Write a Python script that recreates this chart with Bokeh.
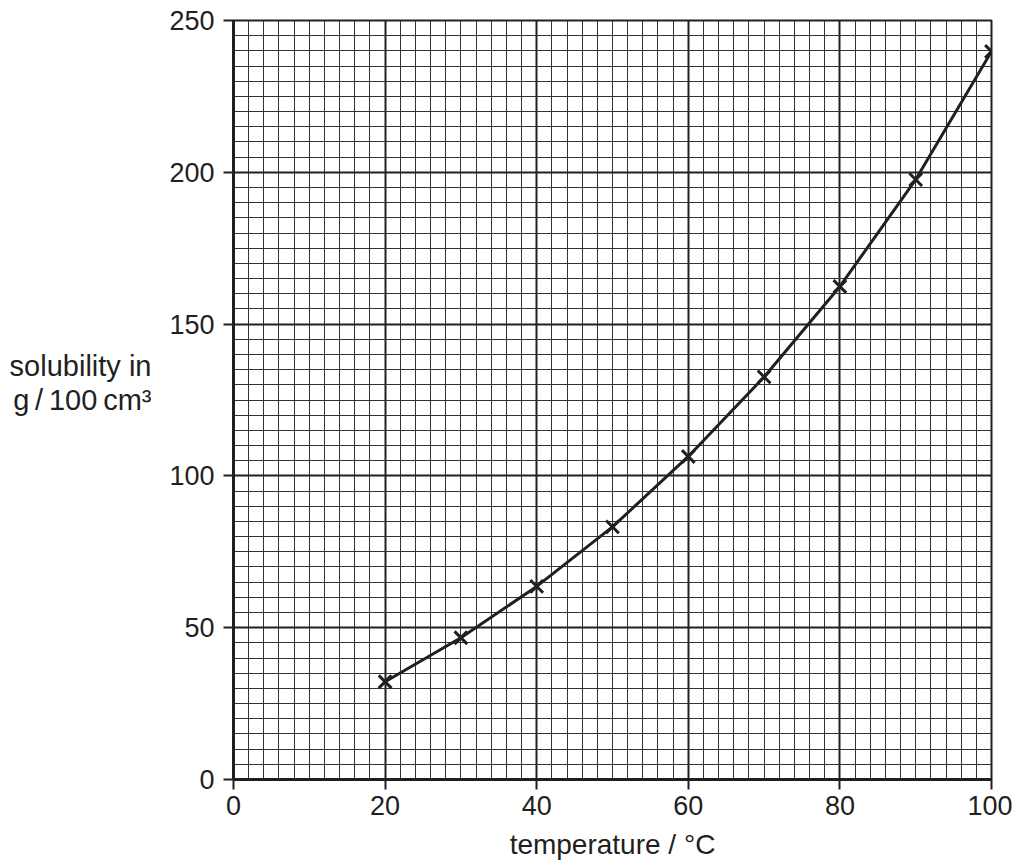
from bokeh.plotting import figure
from bokeh.models import Range1d, SingleIntervalTicker
from bokeh.embed import file_html
from bokeh.resources import INLINE

# data
temperature = [20, 30, 40, 50, 60, 70, 80, 90, 100]
solubility = [32.2, 46.7, 63.6, 83.2, 106.4, 132.6, 162.4, 197.6, 239.8]

x_ticks = [0, 20, 40, 60, 80, 100]
y_ticks = [0, 50, 100, 150, 200, 250]
x_label = "temperature / °C"
y_label = "solubility in\ng\u2009/\u2009100\u2009cm³\n\u2009"

INK = "#231f20"
FONT = "Liberation Sans"

p = figure(width=1012, height=863, output_backend="svg", toolbar_location=None,
           x_range=Range1d(0, 100), y_range=Range1d(0, 250),
           min_border_left=233, min_border_right=21, min_border_top=20, min_border_bottom=84)
p.background_fill_color = "white"
p.border_fill_color = "white"
p.outline_line_color = INK
p.outline_line_width = 2

# grid
p.xgrid.ticker = SingleIntervalTicker(interval=20, num_minor_ticks=10)
p.ygrid.ticker = SingleIntervalTicker(interval=50, num_minor_ticks=10)
for g in (p.xgrid, p.ygrid):
    g.grid_line_color = INK
    g.grid_line_width = 2
    g.grid_line_alpha = 1
    g.minor_grid_line_color = "#333333"
    g.minor_grid_line_width = 1

# axes
p.xaxis.ticker = x_ticks
p.yaxis.ticker = y_ticks
for ax in (p.xaxis, p.yaxis):
    ax.axis_line_color = INK
    ax.axis_line_width = 3
    ax.major_tick_line_color = INK
    ax.major_tick_line_width = 2
    ax.major_tick_out = 10
    ax.major_tick_in = 0
    ax.minor_tick_line_color = None
    ax.major_label_text_font = FONT
    ax.major_label_text_font_size = "27px"
    ax.major_label_text_color = INK
    ax.axis_label_text_font = FONT
    ax.axis_label_text_font_style = "normal"
    ax.axis_label_text_color = INK

p.xaxis.major_label_standoff = 6
p.yaxis.major_label_standoff = 9

p.xaxis.axis_label = x_label
p.xaxis.axis_label_text_font_size = "28px"
p.xaxis.axis_label_standoff = 11
p.yaxis.axis_label = y_label
p.yaxis.axis_label_text_font_size = "29px"
p.yaxis.axis_label_text_line_height = 1.07
p.yaxis.axis_label_orientation = "horizontal"
p.yaxis.axis_label_standoff = 15

# curve and points
p.line(temperature, solubility, line_color=INK, line_width=3)
p.scatter(temperature, solubility, marker="x", size=18, line_color=INK, line_width=3)

open("out.html", "w").write(file_html(p, INLINE))
